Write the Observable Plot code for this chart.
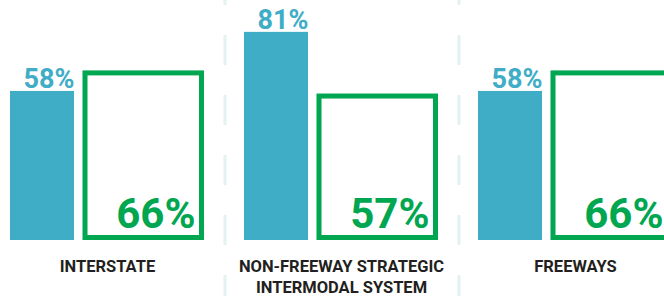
<!DOCTYPE html>
<html>
<head>
<meta charset="utf-8">
<script src="https://cdn.jsdelivr.net/npm/d3@7"></script>
<script src="https://cdn.jsdelivr.net/npm/@observablehq/plot@0.6"></script>
<style>
  html, body { margin: 0; padding: 0; background: #fff; overflow: hidden; }
  #chart svg { display: block; max-width: none !important; }
</style>
</head>
<body>
<div id="chart"></div>
<script>
// Data
const categories = ["INTERSTATE", "NON-FREEWAY STRATEGIC\nINTERMODAL SYSTEM", "FREEWAYS"];
const series = ["Current", "Target"];
const currentValues = [58, 81, 58];
const targetValues = [66, 57, 66];

const BLUE = "#3fadc6";
const GREEN = "#00a650";
const FONT = "Roboto, 'Noto Sans', sans-serif";

const current = categories.map((c, i) => ({category: c, series: series[0], value: currentValues[i]}));
const target = categories.map((c, i) => ({category: c, series: series[1], value: targetValues[i]}));
const separators = categories.slice(1).map(c => ({category: c, series: series[0]}));

const chart = Plot.plot({
  width: 673,
  height: 296,
  marginLeft: 9,
  marginRight: 0,
  marginTop: 0,
  marginBottom: 56,
  style: {fontFamily: FONT, background: "#fff", overflow: "visible"},
  fx: {domain: categories, paddingInner: 0.173, paddingOuter: 0, label: null},
  x: {domain: series, padding: 0, axis: null},
  y: {domain: [0, 93.4], axis: null},
  marks: [
    Plot.ruleX(separators, {fx: "category", x: "series", dx: -68, stroke: "#e2f2f3", strokeWidth: 3,
      strokeDasharray: "30,30", strokeDashoffset: 20, insetTop: -5, insetBottom: -60}),
    Plot.barY(current, {fx: "category", x: "series", y: "value", fill: BLUE, insetLeft: 0, insetRight: 33}),
    Plot.barY(target, {fx: "category", x: "series", y: "value", fill: "none", stroke: GREEN, strokeWidth: 5,
      insetLeft: -22, insetRight: 2.5, insetTop: 2.5, insetBottom: 2.5}),
    Plot.text(current, {fx: "category", x: "series", y: "value", text: d => `${d.value}%`,
      textAnchor: "end", lineAnchor: "bottom", dx: 15.5, dy: -3, fill: BLUE, fontSize: 27, fontWeight: "bold"}),
    Plot.text(target, {fx: "category", x: "series", y: 0, text: d => `${d.value}%`,
      textAnchor: "end", lineAnchor: "bottom", dx: 39.5, dy: -12.7, fill: GREEN, fontSize: 42, fontWeight: "bold"}),
    Plot.axisFx({anchor: "bottom", label: null, tickSize: 0, tickPadding: 16, fontSize: 16.5,
      fontWeight: "bold", fill: "#231f20", lineHeight: 1.31})
  ]
});

document.getElementById("chart").appendChild(chart);
</script>
</body>
</html>
